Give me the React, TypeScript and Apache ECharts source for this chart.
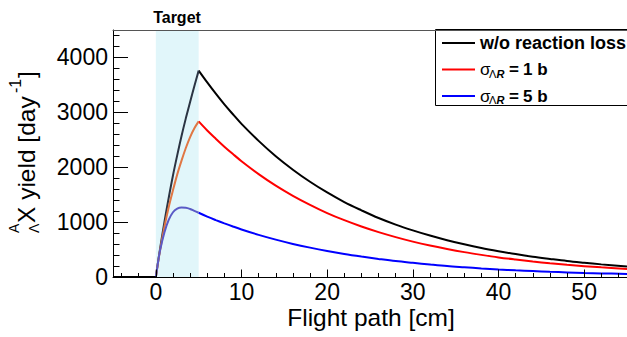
import React, { useEffect, useRef } from "react";
import * as echarts from "echarts";

// ---- data ----
const targetX = [0, 0.25, 0.5, 1, 1.5, 2, 2.5, 3, 3.5, 4, 4.5, 5];
const blackTarget = [0, 265, 520, 1000, 1440, 1850, 2220, 2570, 2890, 3190, 3480, 3760];
const redTarget = [0, 255, 490, 910, 1270, 1580, 1870, 2120, 2350, 2550, 2710, 2835];
const blueTarget = [0, 262, 490, 810, 1040, 1180, 1245, 1265, 1262, 1240, 1205, 1170];

const decayX = [5, 6, 7, 8, 9, 10, 12, 14, 16, 18, 20, 22, 24, 26, 28, 30, 32, 34, 36, 38, 40, 42, 44, 46, 48, 50, 52, 55];
const blackDecay = [3760, 3545, 3340, 3145, 2965, 2790, 2480, 2200, 1955, 1735, 1540, 1365, 1215, 1075, 955, 850, 755, 670, 595, 528, 470, 417, 370, 330, 292, 260, 230, 192];
const redDecay = [2835, 2670, 2520, 2375, 2240, 2110, 1875, 1665, 1480, 1315, 1165, 1035, 920, 818, 727, 645, 573, 510, 453, 403, 357, 318, 282, 250, 222, 198, 176, 147];
const blueDecay = [1170, 1100, 1037, 977, 920, 866, 768, 681, 603, 535, 474, 420, 373, 330, 290, 258, 228, 200, 178, 157, 138, 122, 108, 95, 84, 74, 66, 56];

const zeroX = [-5, 0];
const zeroY = [0, 0];

const targetRange = [0, 5];
const xMajor = [0, 10, 20, 30, 40, 50];
const xMinor = [-4, -2, 2, 4, 6, 8, 12, 14, 16, 18, 22, 24, 26, 28, 32, 34, 36, 38, 42, 44, 46, 48, 52, 54];
const yMajor = [0, 1000, 2000, 3000, 4000];
const yMinor = [200, 400, 600, 800, 1200, 1400, 1600, 1800, 2200, 2400, 2600, 2800, 3200, 3400, 3600, 3800, 4200, 4400];

const legendNames = ["w/o reaction loss", "1 b", "5 b"];

const FONT = "Liberation Sans, Arial, Helvetica, sans-serif";

const zip = (xs: number[], ys: number[]) => xs.map((x, i) => [x, ys[i]]);

export default function App() {
  const ref = useRef<HTMLDivElement>(null);

  useEffect(() => {
    if (!ref.current) return;
    const chart = echarts.init(ref.current, undefined, { renderer: "svg" });

    const lineSeries = (data: number[][], color: string, z = 3, smooth: any = 0.35) => ({
      type: "line",
      data,
      xAxisIndex: 0,
      yAxisIndex: 0,
      symbol: "none",
      smooth,
      lineStyle: { color, width: 2 },
      z,
      silent: true,
    });

    const legendY = [43, 69.5, 96];
    const legendColors = ["#000000", "#ff0000", "#0000ff"];

    const txt = (text: string, x: number, y: number, size: number, extra: any = {}) => ({
      type: "text",
      x,
      y,
      silent: true,
      style: {
        text,
        fill: "#000",
        fontSize: size,
        fontFamily: FONT,
        align: "left",
        textAlign: "left",
        verticalAlign: "middle",
        textVerticalAlign: "middle",
        ...extra,
      },
    });

    const legendEls: any[] = [
      {
        type: "rect",
        shape: { x: 435.5, y: 29.5, width: 200, height: 76 },
        style: { fill: "#fff", stroke: "#000", lineWidth: 1 },
        silent: true,
      },
    ];
    legendY.forEach((y, i) => {
      legendEls.push({
        type: "line",
        shape: { x1: 442, y1: y, x2: 475, y2: y },
        style: { stroke: legendColors[i], lineWidth: 2 },
        silent: true,
      });
    });
    legendEls.push(txt(legendNames[0], 480, legendY[0], 18, { fontWeight: "bold" }));
    [1, 2].forEach((i) => {
      const y = legendY[i];
      legendEls.push(txt("σ", 480, y, 17));
      legendEls.push(txt("Λ", 489, y + 4, 11));
      legendEls.push(txt("R", 496.5, y + 4, 11, { fontWeight: "bold", fontStyle: "italic" }));
      legendEls.push(txt("=", 509, y, 17, { fontWeight: "bold" }));
      legendEls.push(txt(legendNames[i], 523, y, 17, { fontWeight: "bold" }));
    });

    const yTitle = {
      type: "group",
      x: 26,
      y: 233,
      rotation: Math.PI / 2,
      silent: true,
      children: [
        txt("A", 0, -12, 14),
        txt("Λ", 0, 8, 14),
        txt("X yield [day", 10, 0, 24.5),
        txt("-1", 140, -11, 16),
        txt("]", 155, 0, 24.5),
      ],
    };

    const fmt = (v: number) => String(v);

    const option: any = {
      animation: false,
      backgroundColor: "#fff",
      grid: { left: 113, right: 0, top: 30, bottom: 60, containLabel: false },
      xAxis: [
        {
          type: "value",
          position: "bottom",
          min: -5,
          max: 55,
          z: 10,
          axisLine: { show: true, onZero: false, lineStyle: { color: "#000", width: 1 } },
          axisTick: { show: true, inside: true, length: 7.5, customValues: xMajor, lineStyle: { color: "#000", width: 1 } },
          axisLabel: { show: true, customValues: xMajor, formatter: fmt, margin: 3, fontSize: 23, fontFamily: FONT, color: "#000" },
          splitLine: { show: false },
        },
        {
          type: "value",
          position: "bottom",
          min: -5,
          max: 55,
          z: 10,
          axisLine: { show: false, onZero: false },
          axisTick: { show: true, inside: true, length: 4, customValues: xMinor, lineStyle: { color: "#000", width: 1 } },
          axisLabel: { show: false },
          splitLine: { show: false },
        },
        {
          type: "value",
          position: "top",
          min: -5,
          max: 55,
          z: 10,
          axisLine: { show: true, onZero: false, lineStyle: { color: "#555", width: 1 } },
          axisTick: { show: false },
          axisLabel: { show: false },
          splitLine: { show: false },
        },
      ],
      yAxis: [
        {
          type: "value",
          position: "left",
          min: 0,
          max: 4500,
          z: 10,
          axisLine: { show: true, onZero: false, lineStyle: { color: "#000", width: 1 } },
          axisTick: { show: true, inside: true, length: 15, customValues: yMajor, lineStyle: { color: "#000", width: 1 } },
          axisLabel: { show: true, customValues: yMajor, formatter: fmt, margin: 5, fontSize: 23, fontFamily: FONT, color: "#000" },
          splitLine: { show: false },
        },
        {
          type: "value",
          position: "left",
          min: 0,
          max: 4500,
          z: 10,
          axisLine: { show: false, onZero: false },
          axisTick: { show: true, inside: true, length: 6.5, customValues: yMinor, lineStyle: { color: "#000", width: 1 } },
          axisLabel: { show: false },
          splitLine: { show: false },
        },
      ],
      series: [
        {
          type: "line",
          data: [[targetRange[0], 0]],
          xAxisIndex: 0,
          yAxisIndex: 0,
          symbol: "none",
          lineStyle: { opacity: 0 },
          z: 1,
          silent: true,
          markArea: {
            silent: true,
            itemStyle: { color: "#e1f6fa" },
            label: { show: false },
            data: [[{ xAxis: targetRange[0] }, { xAxis: targetRange[1] }]],
          },
        },
        lineSeries(zip(decayX, blackDecay), "#000000"),
        lineSeries(zip(decayX, redDecay), "#ff0000"),
        lineSeries(zip(decayX, blueDecay), "#0000ff"),
        lineSeries(zip(targetX, blackTarget), "#2b3443"),
        lineSeries(zip(targetX, redTarget), "#e07744"),
        lineSeries(zip(targetX, blueTarget), "#5a5ac6"),
        lineSeries(zip(zeroX, zeroY), "#000000", 4, false),
      ],
      graphic: [
        txt("Target", 177, 17.5, 16, { fontWeight: "bold", align: "center", textAlign: "center" }),
        txt("Flight path [cm]", 371, 317.5, 24.5, { align: "center", textAlign: "center" }),
        yTitle,
        ...legendEls,
      ],
    };

    chart.setOption(option);
    return () => chart.dispose();
  }, []);

  return (
    <div
      ref={ref}
      style={{ position: "fixed", left: 0, top: 0, width: 627, height: 337, background: "#fff" }}
    />
  );
}
